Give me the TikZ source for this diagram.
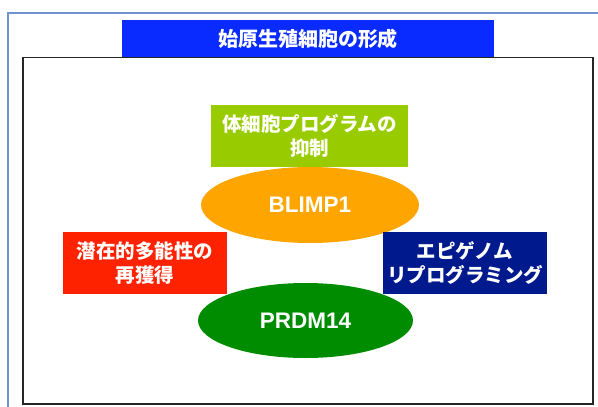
\documentclass[tikz,border=0pt]{standalone}
\usepackage{fontspec}
\setmainfont{Liberation Sans}
\newfontfamily\jp{Noto Sans CJK JP}
\usetikzlibrary{shapes.geometric}
\definecolor{titleblue}{HTML}{0A2BFF}
\definecolor{limegreen}{HTML}{99CC00}
\definecolor{orangeell}{HTML}{FFA500}
\definecolor{redbox}{HTML}{FF2200}
\definecolor{navybox}{HTML}{001A8E}
\definecolor{greenell}{HTML}{008C00}
\definecolor{framelblue}{HTML}{6E95CF}
\begin{document}
\begin{tikzpicture}[x=1pt,y=-1pt,
  boxtxt/.style={text=white,font=\jp\bfseries\fontsize{19.5}{24}\selectfont,align=center,inner sep=0pt},
  rbox/.style={boxtxt,minimum height=62pt},
  ell/.style={ellipse,inner sep=0pt,text=white,font=\bfseries\fontsize{22.5}{24}\selectfont}]
\useasboundingbox (0,0) rectangle (598,407);
\fill[white] (0,0) rectangle (598,407);
\draw[framelblue,line width=1.3pt] (8,13) rectangle (620,430);
\node[boxtxt,fill=titleblue,minimum width=372pt,minimum height=37pt,font=\jp\bfseries\fontsize{20}{24}\selectfont] (title) at (308,38.5) {始原生殖細胞の形成};
\draw[black!85,line width=1.6pt] (23,57.5) rectangle (593,404);
\node[rbox,fill=limegreen,minimum width=197pt] (soma) at (309.5,136) {体細胞プログラムの\\抑制};
\node[ell,fill=orangeell,minimum width=218pt,minimum height=76pt] (blimp) at (310,205) {BLIMP1};
\node[rbox,fill=redbox,minimum width=164pt] (pluri) at (145,263) {潜在的多能性の\\再獲得};
\node[rbox,fill=navybox,minimum width=164pt] (epi) at (465,263) {エピゲノム\\リプログラミング};
\node[ell,fill=greenell,minimum width=215pt,minimum height=75pt] (prdm) at (305.5,320.5) {PRDM14};
\end{tikzpicture}
\end{document}
